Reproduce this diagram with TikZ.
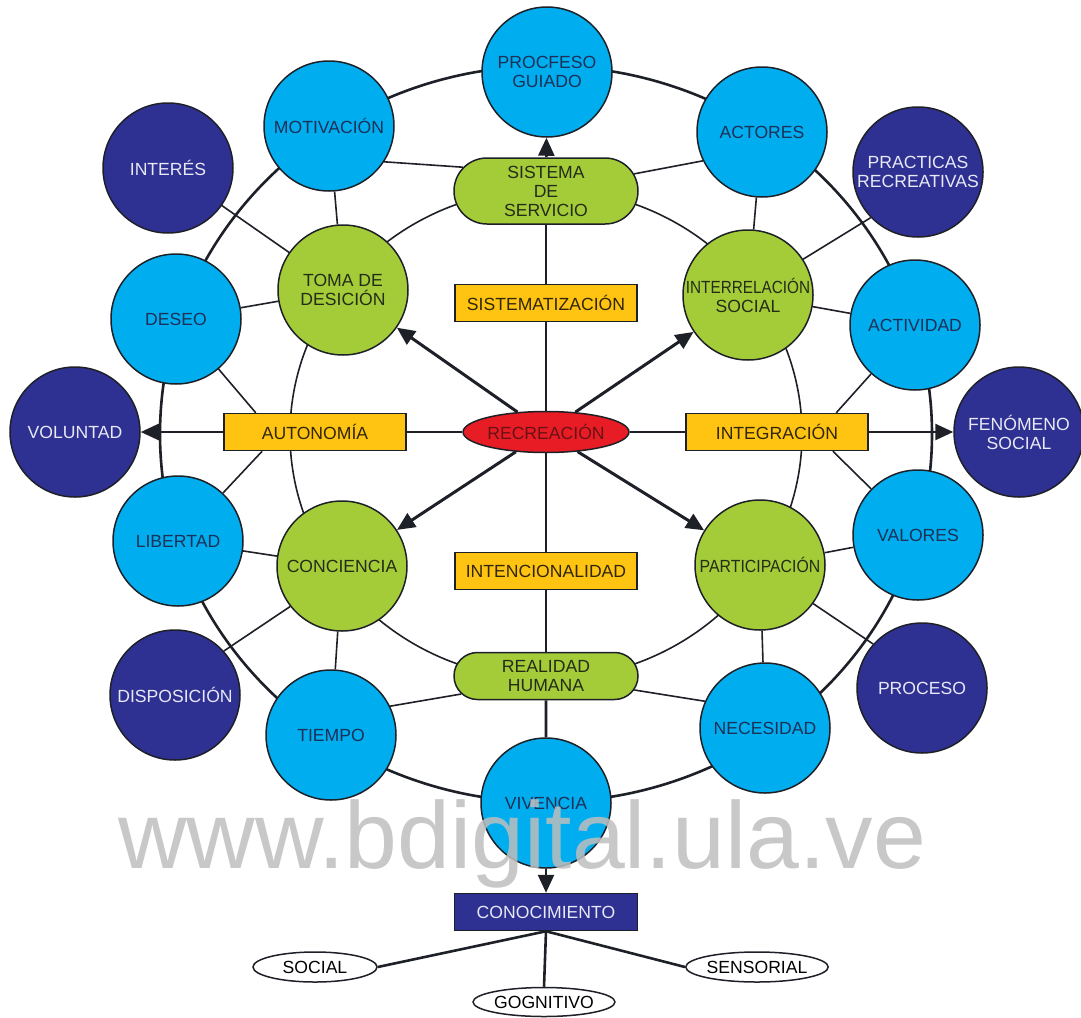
\documentclass[tikz,border=0pt]{standalone}
\usepackage{fontspec}
\setmainfont{Liberation Sans}
\usepackage{graphicx}
\usepackage{tikz}
\usetikzlibrary{arrows.meta}
\usetikzlibrary{shapes.geometric}
\usetikzlibrary{shapes.misc}
\definecolor{skyfill}{RGB}{0,174,239}
\definecolor{deepfill}{RGB}{46,49,146}
\definecolor{leaffill}{RGB}{164,204,57}
\definecolor{goldfill}{RGB}{255,196,18}
\definecolor{redfill}{RGB}{232,28,36}
\definecolor{inkline}{RGB}{30,32,40}
\definecolor{navyink}{RGB}{28,48,88}
\definecolor{leafink}{RGB}{36,44,24}
\definecolor{goldink}{RGB}{50,38,10}
\definecolor{redink}{RGB}{105,18,22}
\definecolor{paleink}{RGB}{232,232,246}
\definecolor{stampgray}{RGB}{190,190,190}
\newcommand\lbl{\fontsize{17.6}{19}\selectfont}
\newcommand\squeeze[2]{\scalebox{#1}[1]{#2}}
\tikzstyle{ball}=[circle,draw=inkline,line width=1.5pt,minimum size=130pt,inner sep=0pt,align=center,font=\lbl]
\tikzstyle{rim}=[ball,fill=skyfill,text=navyink]
\tikzstyle{far}=[ball,fill=deepfill,text=paleink]
\tikzstyle{core}=[ball,fill=leaffill,text=leafink]
\tikzstyle{pill}=[rounded rectangle,draw=inkline,line width=1.5pt,fill=leaffill,text=leafink,minimum width=184pt,inner sep=0pt,align=center,font=\lbl]
\tikzstyle{tag}=[rectangle,draw=inkline,line width=1.5pt,fill=goldfill,text=goldink,minimum width=182pt,minimum height=37pt,inner sep=0pt,font=\lbl]
\tikzstyle{focus}=[ellipse,draw=inkline,line width=1.5pt,fill=redfill,text=redink,minimum width=160pt,minimum height=41pt,inner sep=0pt,font=\lbl]
\tikzstyle{leaf}=[ellipse,draw=inkline,line width=1.5pt,fill=white,minimum height=30pt,inner sep=0pt,font=\lbl]
\tikzstyle{ring}=[line width=2.6pt,inkline]
\tikzstyle{thinring}=[line width=1.6pt,inkline]
\tikzstyle{spoke}=[line width=1.6pt,inkline]
\tikzstyle{axis}=[line width=2.6pt,inkline]
\tikzstyle{ray}=[line width=3pt,inkline]
\tikzstyle{push}=[-{Triangle[length=18pt,width=16pt]}]

\begin{document}
\begin{tikzpicture}[x=1pt,y=-1pt]
	\useasboundingbox (0,0) rectangle (1081,1017);
	\coordinate (hub) at (546,434);
	\draw[ring] (hub) ellipse [x radius=386, y radius=368];
	\draw[thinring] (hub) ellipse [x radius=256, y radius=245];
	% outer ring
	\node[rim] (procfeso) at (547,72) {PROCFESO\\GUIADO};
	\node[rim] (motiv) at (329,126) {MOTIVACIÓN};
	\node[rim] (actores) at (762,132) {ACTORES};
	\node[rim] (deseo) at (176,319) {DESEO};
	\node[rim] (actividad) at (915,325) {ACTIVIDAD};
	\node[rim] (libertad) at (178,541) {LIBERTAD};
	\node[rim] (valores) at (918,535) {VALORES};
	\node[rim] (tiempo) at (331,735) {TIEMPO};
	\node[rim] (necesidad) at (765,728) {NECESIDAD};
	\node[rim] (vivencia) at (546,803) {VIVENCIA};
	\node[far] (interes) at (168,168) {INTERÉS};
	\node[far] (practicas) at (918,172) {PRACTICAS\\RECREATIVAS};
	\node[far] (voluntad) at (75,432) {VOLUNTAD};
	\node[far] (fenomeno) at (1019,432) {FENÓMENO\\SOCIAL};
	\node[far] (disposicion) at (175,695) {DISPOSICIÓN};
	\node[far] (proceso) at (922,688) {PROCESO};
	% inner ring
	\node[core] (toma) at (343,290) {TOMA DE\\DESICIÓN};
	\node[core] (interrel) at (748,295) {\squeeze{0.87}{INTERRELACIÓN}\\SOCIAL};
	\node[core] (conciencia) at (342,566) {CONCIENCIA};
	\node[core] (particip) at (760,565) {\squeeze{0.9}{PARTICIPACIÓN}};
	\node[pill,minimum height=66pt] (sistema) at (546,191) {SISTEMA\\DE\\SERVICIO};
	\node[pill,minimum height=47pt] (realidad) at (546,676) {REALIDAD\\HUMANA};
	% centre
	\node[tag] (sistematiz) at (546,303) {SISTEMATIZACIÓN};
	\node[tag] (autonomia) at (315,432) {AUTONOMÍA};
	\node[tag] (integracion) at (777,432) {INTEGRACIÓN};
	\node[tag] (intencional) at (546,571) {INTENCIONALIDAD};
	\node[focus] (recreacion) at (546,432) {RECREACIÓN};
	\node[tag,fill=deepfill,text=paleink,minimum width=183pt] (conoc) at (546,912) {CONOCIMIENTO};
	\node[leaf,minimum width=124pt] (social) at (315,967) {SOCIAL};
	\node[leaf,minimum width=142pt,minimum height=29pt] (gognitivo) at (544,1002) {GOGNITIVO};
	\node[leaf,minimum width=142pt] (sensorial) at (757,967) {SENSORIAL};
	% axes
	\draw[axis] (recreacion) -- (sistematiz);
	\draw[axis] (sistematiz) -- (sistema);
	\draw[axis,push] (sistema) -- (procfeso);
	\draw[axis] (recreacion) -- (intencional);
	\draw[axis] (intencional) -- (realidad);
	\draw[axis] (realidad) -- (vivencia);
	\draw[axis,push] (vivencia) -- (conoc);
	\draw[axis] (recreacion) -- (autonomia);
	\draw[axis,push] (autonomia) -- (voluntad);
	\draw[axis] (recreacion) -- (integracion);
	\draw[axis,push] (integracion) -- (fenomeno);
	\draw[ray,push] (recreacion) -- (toma);
	\draw[ray,push] (recreacion) -- (interrel);
	\draw[ray,push] (recreacion) -- (conciencia);
	\draw[ray,push] (recreacion) -- (particip);
	% spokes
	\draw[spoke] (motiv.-33) -- (sistema.164);
	\draw[spoke] (motiv) -- (toma);
	\draw[spoke] (interes) -- (toma);
	\draw[spoke] (deseo) -- (toma);
	\draw[spoke] (deseo) -- (autonomia.162);
	\draw[spoke] (autonomia.200) -- (libertad);
	\draw[spoke] (actores.206) -- (sistema.11);
	\draw[spoke] (actores) -- (interrel);
	\draw[spoke] (practicas.224) -- (interrel.33);
	\draw[spoke] (interrel) -- (actividad);
	\draw[spoke] (actividad) -- (integracion.18);
	\draw[spoke] (integracion.-19) -- (valores);
	\draw[spoke] (libertad) -- (conciencia);
	\draw[spoke] (disposicion.42) -- (conciencia.218);
	\draw[spoke] (conciencia) -- (tiempo);
	\draw[spoke] (tiempo.26) -- (realidad.192);
	\draw[spoke] (particip) -- (valores);
	\draw[spoke] (particip.-36) -- (proceso.138);
	\draw[spoke] (particip) -- (necesidad);
	\draw[spoke] (realidad.-9) -- (necesidad.156);
	\draw[axis] (conoc.south) -- (social.east);
	\draw[axis] (conoc.south) -- (gognitivo.north);
	\draw[axis] (conoc.south) -- (sensorial.west);
	\node[font=\fontsize{95}{100}\selectfont,text=stampgray,text opacity=.85,anchor=base] (wm) at (522,868) {www.bdigital.ula.ve};
\end{tikzpicture}
\end{document}
